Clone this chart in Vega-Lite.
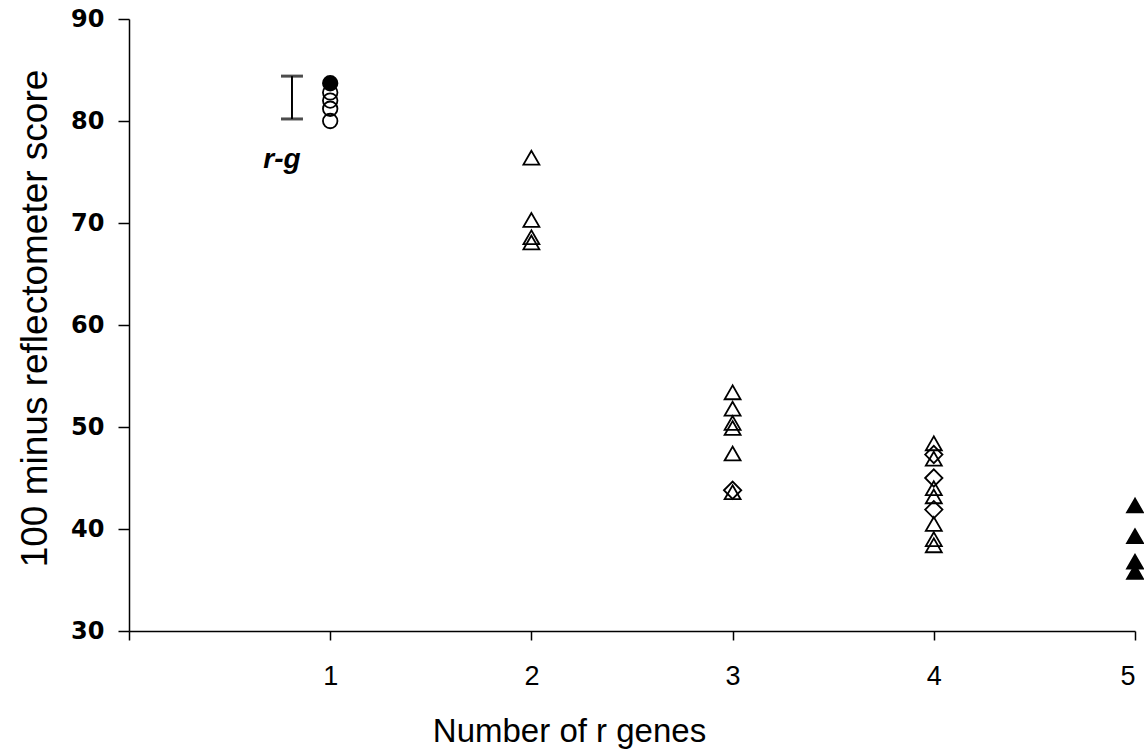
{
  "$schema": "https://vega.github.io/schema/vega-lite/v6.json",
  "autosize": "none",
  "width": 1006,
  "height": 612,
  "padding": {"left": 129, "top": 19, "right": 9, "bottom": 120},
  "background": "white",
  "config": {"view": {"stroke": null}, "axis": {"grid": false}},
  "datasets": {
    "points": [
      {"genes": 1, "score": 80.0, "marker": "circle", "fillType": "open"},
      {"genes": 1, "score": 81.2, "marker": "circle", "fillType": "open"},
      {"genes": 1, "score": 82.0, "marker": "circle", "fillType": "open"},
      {"genes": 1, "score": 82.8, "marker": "circle", "fillType": "open"},
      {"genes": 1, "score": 83.7, "marker": "circle", "fillType": "solid"},
      {"genes": 2, "score": 76.4, "marker": "triangle", "fillType": "open"},
      {"genes": 2, "score": 70.3, "marker": "triangle", "fillType": "open"},
      {"genes": 2, "score": 68.6, "marker": "triangle", "fillType": "open"},
      {"genes": 2, "score": 68.1, "marker": "triangle", "fillType": "open"},
      {"genes": 3, "score": 53.4, "marker": "triangle", "fillType": "open"},
      {"genes": 3, "score": 51.8, "marker": "triangle", "fillType": "open"},
      {"genes": 3, "score": 50.4, "marker": "triangle", "fillType": "open"},
      {"genes": 3, "score": 49.9, "marker": "triangle", "fillType": "open"},
      {"genes": 3, "score": 47.4, "marker": "triangle", "fillType": "open"},
      {"genes": 3, "score": 43.6, "marker": "triangle", "fillType": "open"},
      {"genes": 3, "score": 43.8, "marker": "diamond", "fillType": "open"},
      {"genes": 4, "score": 48.4, "marker": "triangle", "fillType": "open"},
      {"genes": 4, "score": 46.9, "marker": "triangle", "fillType": "open"},
      {"genes": 4, "score": 44.0, "marker": "triangle", "fillType": "open"},
      {"genes": 4, "score": 43.2, "marker": "triangle", "fillType": "open"},
      {"genes": 4, "score": 40.5, "marker": "triangle", "fillType": "open"},
      {"genes": 4, "score": 39.0, "marker": "triangle", "fillType": "open"},
      {"genes": 4, "score": 38.4, "marker": "triangle", "fillType": "open"},
      {"genes": 4, "score": 47.3, "marker": "diamond", "fillType": "open"},
      {"genes": 4, "score": 45.0, "marker": "diamond", "fillType": "open"},
      {"genes": 4, "score": 41.9, "marker": "diamond", "fillType": "open"},
      {"genes": 5, "score": 42.3, "marker": "triangle", "fillType": "solid"},
      {"genes": 5, "score": 39.3, "marker": "triangle", "fillType": "solid"},
      {"genes": 5, "score": 36.8, "marker": "triangle", "fillType": "solid"},
      {"genes": 5, "score": 35.8, "marker": "triangle", "fillType": "solid"}
    ],
    "errbar": [
      {"genes": 0.81, "low": 80.2, "high": 84.4}
    ],
    "labels": [
      {"genes": 0.76, "score": 75.4, "text": "r-g"}
    ]
  },
  "layer": [
    {
      "data": {"name": "errbar"},
      "mark": {"type": "rule", "color": "black", "strokeWidth": 2},
      "encoding": {
        "x": {"field": "genes", "type": "quantitative", "scale": {"domain": [0, 5], "nice": false, "zero": false},
          "axis": {
            "values": [0, 1, 2, 3, 4, 5],
            "format": "d",
            "labelExpr": "datum.value == 0 ? '' : datum.label",
            "domainColor": "black", "domainWidth": 1.5,
            "tickColor": "black", "tickWidth": 1.5, "tickSize": 9,
            "labelFont": "Liberation Sans", "labelFontSize": 27, "labelColor": "black",
            "labelPadding": 23,
            "title": "Number of r genes",
            "titleFont": "Liberation Sans", "titleFontSize": 33, "titleFontWeight": "normal", "titleColor": "black",
            "titleX": 440, "titleY": 100, "titleBaseline": "middle", "titleAlign": "center"
          }},
        "y": {"field": "low", "type": "quantitative", "scale": {"domain": [30, 90], "nice": false, "zero": false},
          "axis": {
            "values": [30, 40, 50, 60, 70, 80, 90],
            "domainColor": "black", "domainWidth": 1.5,
            "tickColor": "black", "tickWidth": 1.5, "tickSize": 11,
            "labelFont": "DejaVu Sans", "labelFontWeight": "bold", "labelFontSize": 24, "labelColor": "black",
            "labelPadding": 14,
            "title": "100 minus reflectometer score",
            "titleFont": "Liberation Sans", "titleFontSize": 37, "titleFontWeight": "normal", "titleColor": "black",
            "titleAngle": -90, "titleX": -94, "titleY": 299, "titleBaseline": "middle", "titleAlign": "center"
          }},
        "y2": {"field": "high"}
      }
    },
    {
      "data": {"name": "errbar"},
      "mark": {"type": "tick", "orient": "horizontal", "color": "black", "thickness": 3, "size": 22},
      "encoding": {
        "x": {"field": "genes", "type": "quantitative"},
        "y": {"field": "low", "type": "quantitative"}
      }
    },
    {
      "data": {"name": "errbar"},
      "mark": {"type": "tick", "orient": "horizontal", "color": "black", "thickness": 3, "size": 22},
      "encoding": {
        "x": {"field": "genes", "type": "quantitative"},
        "y": {"field": "high", "type": "quantitative"}
      }
    },
    {
      "data": {"name": "labels"},
      "mark": {"type": "text", "font": "Liberation Sans", "fontSize": 28, "fontWeight": "bold", "fontStyle": "italic", "color": "black", "baseline": "alphabetic", "align": "center"},
      "encoding": {
        "x": {"field": "genes", "type": "quantitative"},
        "y": {"field": "score", "type": "quantitative"},
        "text": {"field": "text"}
      }
    },
    {
      "data": {"name": "points"},
      "mark": {"type": "point", "filled": false, "strokeWidth": 1.8, "opacity": 1},
      "encoding": {
        "x": {"field": "genes", "type": "quantitative"},
        "y": {"field": "score", "type": "quantitative"},
        "shape": {"field": "marker", "type": "nominal", "scale": {"domain": ["circle", "triangle", "diamond"], "range": ["circle", "triangle-up", "diamond"]}, "legend": null},
        "size": {"field": "marker", "type": "nominal", "scale": {"domain": ["circle", "triangle", "diamond"], "range": [210, 300, 280]}, "legend": null},
        "fill": {"field": "fillType", "type": "nominal", "scale": {"domain": ["solid", "open"], "range": ["black", "transparent"]}, "legend": null},
        "stroke": {"value": "black"}
      }
    }
  ]
}
